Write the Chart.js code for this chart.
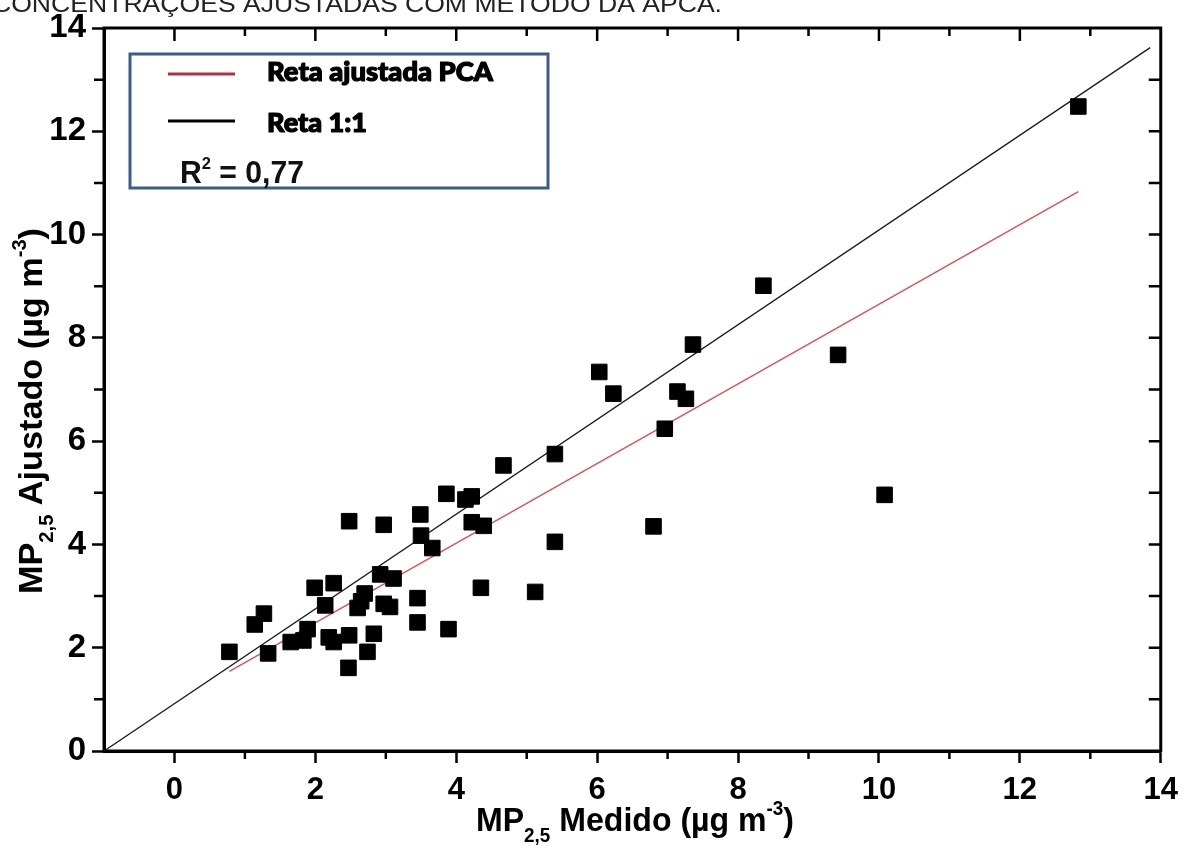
<!DOCTYPE html>
<html><head><meta charset="utf-8">
<script src="https://cdn.jsdelivr.net/npm/chart.js@4.4.0/dist/chart.umd.min.js"></script>
<style>html,body{margin:0;padding:0;background:#fff;overflow:hidden}#wrap{position:relative;width:1187px;height:850px}</style>
</head><body><div id="wrap"><canvas id="c" width="1187" height="850"></canvas></div>
<script>
// ---- data ----
const measuredX = [0.78,1.14,1.27,1.33,1.65,1.83,1.89,1.99,2.14,2.19,2.26,2.26,2.47,2.48,2.48,2.60,2.65,2.70,2.74,2.83,2.92,2.97,2.97,3.06,3.11,3.45,3.45,3.49,3.50,3.66,3.86,3.89,4.13,4.22,4.22,4.35,4.39,5.12,4.67,5.40,5.40,6.03,6.23,6.80,6.96,7.14,7.26,7.36,8.36,9.42,10.08,12.83];
const adjustedY = [1.92,2.45,2.66,1.89,2.11,2.14,2.36,3.16,2.82,2.20,2.11,3.25,1.61,2.24,4.45,2.77,2.90,3.05,1.92,2.27,3.42,4.38,2.85,2.79,3.34,2.96,2.49,4.58,4.17,3.93,4.98,2.36,4.87,4.93,4.43,3.16,4.36,3.08,5.53,5.75,4.05,7.34,6.92,4.35,6.24,6.96,6.82,7.87,9.01,7.67,4.96,12.48];
const pcaLineX = [0.78, 12.83];
const pcaLineY = [1.54, 10.83];
const refLineX = [-1, 13.85];
const refLineY = [0, 13.62];
const xTickValues = [0,2,4,6,8,10,12,14];
const yTickValues = [0,2,4,6,8,10,12,14];
const legendLabels = ['Reta ajustada PCA','Reta 1:1'];
const r2Value = '0,77';
const pageTitle = 'CONCENTRAÇÕES AJUSTADAS COM MÉTODO DA APCA.';

const FAM = "'Liberation Sans', Arial, sans-serif";

function richText(ctx, parts, x, baseline, targetW, family, weight, color, strokeW){
  let total = 0;
  const ws = parts.map(p => { ctx.font = `${weight} ${p.size}px ${family}`; const w = ctx.measureText(p.t).width; total += w; return w; });
  const sx = targetW ? targetW / total : 1;
  ctx.save();
  ctx.translate(x, baseline);
  ctx.scale(sx, 1);
  ctx.fillStyle = color; ctx.strokeStyle = color; ctx.lineJoin = 'round';
  ctx.textBaseline = 'alphabetic'; ctx.textAlign = 'left';
  let cx = 0;
  parts.forEach((p, i) => {
    ctx.font = `${weight} ${p.size}px ${family}`;
    ctx.fillText(p.t, cx, p.dy || 0);
    if (strokeW) { ctx.lineWidth = strokeW; ctx.strokeText(p.t, cx, p.dy || 0); }
    cx += ws[i];
  });
  ctx.restore();
}

const decor = {
  id: 'decor',
  afterDraw(chart){
    const ctx = chart.ctx, a = chart.chartArea, xs = chart.scales.x, ys = chart.scales.y;
    ctx.save();
    // frame
    ctx.strokeStyle = '#000'; ctx.lineWidth = 3;
    ctx.strokeRect(a.left, a.top, a.right - a.left, a.bottom - a.top);
    ctx.lineWidth = 2.5; ctx.beginPath();
    for (let v = 0; v <= 14; v++) {
      const px = xs.getPixelForValue(v);
      const major = v % 2 === 0;
      if (!major) { ctx.moveTo(px, a.bottom); ctx.lineTo(px, a.bottom + 8); }
      if (v < 14) { ctx.moveTo(px, a.top); ctx.lineTo(px, a.top + (major ? 13 : 8)); }
    }
    for (let v = 0; v <= 14; v++) {
      const py = ys.getPixelForValue(v);
      if (v % 2 === 1) { ctx.moveTo(a.left, py); ctx.lineTo(a.left - 10, py); }
      if (v > 0 && v < 14) { ctx.moveTo(a.right, py); ctx.lineTo(a.right - 12, py); }
    }
    ctx.stroke();

    // legend box
    ctx.strokeStyle = '#3b5b8c'; ctx.lineWidth = 3;
    ctx.strokeRect(130, 54, 418, 134);
    ctx.lineWidth = 3;
    ctx.strokeStyle = '#b5303c'; ctx.beginPath(); ctx.moveTo(168, 74); ctx.lineTo(235, 74); ctx.stroke();
    ctx.strokeStyle = '#000'; ctx.beginPath(); ctx.moveTo(168, 121); ctx.lineTo(235, 121); ctx.stroke();
    richText(ctx, [{t: legendLabels[0], size: 26}], 267, 81, 226, "Lato, 'Open Sans', sans-serif", '900', '#000', 1.2);
    richText(ctx, [{t: legendLabels[1], size: 26}], 267, 132, 100, "Lato, 'Open Sans', sans-serif", '900', '#000', 1.2);
    richText(ctx, [{t: 'R', size: 31}, {t: '2', size: 17, dy: -14}, {t: ' = ' + r2Value, size: 31}], 180, 183, 124, FAM, 'bold', '#111');

    // x axis title
    richText(ctx, [{t: 'MP', size: 34}, {t: '2,5', size: 20, dy: 11}, {t: ' Medido (µg m', size: 34}, {t: '-3', size: 20, dy: -16}, {t: ')', size: 34}], 476, 831, 318, FAM, 'bold', '#000');
    // y axis title
    ctx.save();
    ctx.translate(42, 594); ctx.rotate(-Math.PI / 2);
    richText(ctx, [{t: 'MP', size: 34}, {t: '2,5', size: 20, dy: 11}, {t: ' Ajustado (µg m', size: 34}, {t: '-3', size: 20, dy: -16}, {t: ')', size: 34}], 0, 0, 366, FAM, 'bold', '#000');
    ctx.restore();
    // clipped page title
    richText(ctx, [{t: pageTitle, size: 24}], -8, 12, 730, FAM, 'normal', '#222');
    ctx.restore();
  }
};

new Chart(document.getElementById('c').getContext('2d'), {
  type: 'scatter',
  data: {
    datasets: [
      {label: 'Pontos', data: measuredX.map((x, i) => ({x, y: adjustedY[i]})), pointStyle: 'rect', pointRadius: 11, pointBorderWidth: 1, backgroundColor: '#000', borderColor: '#000', order: 1},
      {label: legendLabels[0], data: pcaLineX.map((x, i) => ({x, y: pcaLineY[i]})), showLine: true, borderColor: '#d65557', borderWidth: 1.5, pointRadius: 0, order: 2},
      {label: legendLabels[1], data: refLineX.map((x, i) => ({x, y: refLineY[i]})), showLine: true, borderColor: '#1a1a1a', borderWidth: 1.3, pointRadius: 0, order: 3}
    ]
  },
  options: {
    responsive: false, animation: false, devicePixelRatio: 1,
    layout: {padding: {left: 0, right: 22, top: 28, bottom: 0}},
    plugins: {legend: {display: false}, tooltip: {enabled: false}},
    scales: {
      x: {
        type: 'linear', min: -1, max: 14,
        afterBuildTicks(s){ s.ticks = xTickValues.map(v => ({value: v})); },
        afterFit(s){ s.height = 99; },
        ticks: {font: {family: FAM, size: 31, weight: 'bold'}, color: '#000', padding: 9, autoSkip: false, maxRotation: 0},
        grid: {drawOnChartArea: false, drawTicks: true, tickLength: 12, tickWidth: 2.5, tickColor: '#000'},
        border: {display: true, color: '#000', width: 3}
      },
      y: {
        type: 'linear', min: 0, max: 14,
        afterBuildTicks(s){ s.ticks = yTickValues.map(v => ({value: v})); },
        afterFit(s){ s.width = 104; },
        ticks: {font: {family: FAM, size: 33, weight: 'bold'}, color: '#000', padding: 6, autoSkip: false},
        grid: {drawOnChartArea: false, drawTicks: true, tickLength: 12, tickWidth: 2.5, tickColor: '#000'},
        border: {display: true, color: '#000', width: 3}
      }
    }
  },
  plugins: [decor]
});
</script></body></html>
